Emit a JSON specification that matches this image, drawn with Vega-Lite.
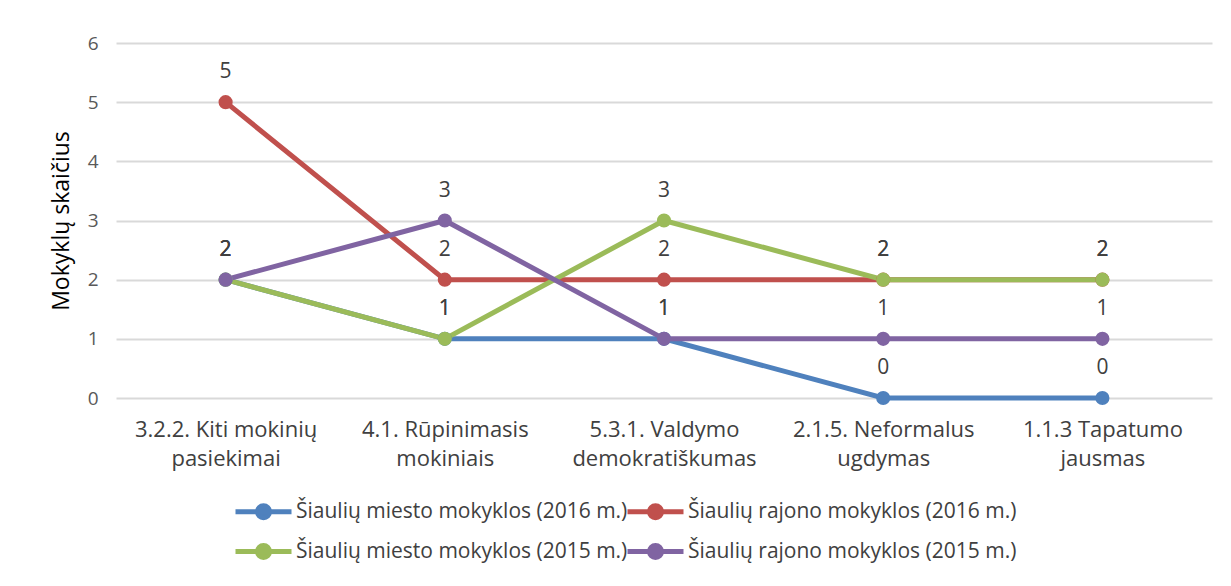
{
  "$schema": "https://vega.github.io/schema/vega-lite/v6.json",
  "width": 1096,
  "height": 355,
  "padding": {"left": 50, "top": 34, "right": 17, "bottom": 0},
  "background": "white",
  "config": {
    "font": "Open Sans",
    "view": {"stroke": null}
  },
  "data": {
    "values": [
      {"i": 1, "kategorija": "3.2.2. Kiti mokinių|pasiekimai", "serija": "Šiaulių miesto mokyklos (2016 m.)", "reiksme": 2},
      {"i": 2, "kategorija": "4.1. Rūpinimasis|mokiniais", "serija": "Šiaulių miesto mokyklos (2016 m.)", "reiksme": 1},
      {"i": 3, "kategorija": "5.3.1. Valdymo|demokratiškumas", "serija": "Šiaulių miesto mokyklos (2016 m.)", "reiksme": 1},
      {"i": 4, "kategorija": "2.1.5. Neformalus|ugdymas", "serija": "Šiaulių miesto mokyklos (2016 m.)", "reiksme": 0},
      {"i": 5, "kategorija": "1.1.3 Tapatumo|jausmas", "serija": "Šiaulių miesto mokyklos (2016 m.)", "reiksme": 0},
      {"i": 1, "kategorija": "3.2.2. Kiti mokinių|pasiekimai", "serija": "Šiaulių rajono mokyklos (2016 m.)", "reiksme": 5},
      {"i": 2, "kategorija": "4.1. Rūpinimasis|mokiniais", "serija": "Šiaulių rajono mokyklos (2016 m.)", "reiksme": 2},
      {"i": 3, "kategorija": "5.3.1. Valdymo|demokratiškumas", "serija": "Šiaulių rajono mokyklos (2016 m.)", "reiksme": 2},
      {"i": 4, "kategorija": "2.1.5. Neformalus|ugdymas", "serija": "Šiaulių rajono mokyklos (2016 m.)", "reiksme": 2},
      {"i": 5, "kategorija": "1.1.3 Tapatumo|jausmas", "serija": "Šiaulių rajono mokyklos (2016 m.)", "reiksme": 2},
      {"i": 1, "kategorija": "3.2.2. Kiti mokinių|pasiekimai", "serija": "Šiaulių miesto mokyklos (2015 m.)", "reiksme": 2},
      {"i": 2, "kategorija": "4.1. Rūpinimasis|mokiniais", "serija": "Šiaulių miesto mokyklos (2015 m.)", "reiksme": 1},
      {"i": 3, "kategorija": "5.3.1. Valdymo|demokratiškumas", "serija": "Šiaulių miesto mokyklos (2015 m.)", "reiksme": 3},
      {"i": 4, "kategorija": "2.1.5. Neformalus|ugdymas", "serija": "Šiaulių miesto mokyklos (2015 m.)", "reiksme": 2},
      {"i": 5, "kategorija": "1.1.3 Tapatumo|jausmas", "serija": "Šiaulių miesto mokyklos (2015 m.)", "reiksme": 2},
      {"i": 1, "kategorija": "3.2.2. Kiti mokinių|pasiekimai", "serija": "Šiaulių rajono mokyklos (2015 m.)", "reiksme": 2},
      {"i": 2, "kategorija": "4.1. Rūpinimasis|mokiniais", "serija": "Šiaulių rajono mokyklos (2015 m.)", "reiksme": 3},
      {"i": 3, "kategorija": "5.3.1. Valdymo|demokratiškumas", "serija": "Šiaulių rajono mokyklos (2015 m.)", "reiksme": 1},
      {"i": 4, "kategorija": "2.1.5. Neformalus|ugdymas", "serija": "Šiaulių rajono mokyklos (2015 m.)", "reiksme": 1},
      {"i": 5, "kategorija": "1.1.3 Tapatumo|jausmas", "serija": "Šiaulių rajono mokyklos (2015 m.)", "reiksme": 1}
    ]
  },
  "encoding": {
    "x": {
      "field": "kategorija",
      "type": "nominal",
      "sort": null,
      "scale": {"paddingInner": 0, "paddingOuter": 0.5},
      "axis": {
        "title": null,
        "labelAngle": 0,
        "labelExpr": "split(datum.value, '|')",
        "labelFontSize": 22,
        "labelColor": "#404040",
        "labelLineHeight": 29,
        "labelPadding": 21,
        "labelLimit": 0,
        "ticks": false,
        "domain": false,
        "grid": false
      }
    },
    "y": {
      "field": "reiksme",
      "type": "quantitative",
      "scale": {"domain": [0, 6], "nice": false},
      "axis": {
        "title": "Mokyklų skaičius",
        "titleFontSize": 23,
        "titleFontWeight": "normal",
        "titleColor": "#000000",
        "titlePadding": 14,
        "values": [0, 1, 2, 3, 4, 5, 6],
        "labelOverlap": false,
        "labelFontSize": 19,
        "labelColor": "#595959",
        "labelPadding": 18,
        "ticks": false,
        "domain": false,
        "gridColor": "#d9d9d9",
        "gridWidth": 2
      }
    }
  },
  "layer": [
    {
      "mark": {"type": "line", "strokeWidth": 5, "point": {"filled": true, "size": 200, "opacity": 1}},
      "encoding": {
        "color": {
          "field": "serija",
          "type": "nominal",
          "sort": null,
          "scale": {
            "domain": ["Šiaulių miesto mokyklos (2016 m.)", "Šiaulių rajono mokyklos (2016 m.)", "Šiaulių miesto mokyklos (2015 m.)", "Šiaulių rajono mokyklos (2015 m.)"],
            "range": ["#4f81bd", "#c0504d", "#9bbb59", "#8064a2"]
          },
          "legend": {
            "title": null,
            "orient": "none",
            "legendX": 135,
            "legendY": 456,
            "direction": "horizontal",
            "columns": 2,
            "rowPadding": 7,
            "columnPadding": -11,
            "labelFontSize": 21,
            "labelColor": "#404040",
            "labelOffset": 20,
            "labelLimit": 0,
            "symbolType": "M-2.8,0H2.8M0.6,0A0.6,0.6,0,1,1,-0.6,0A0.6,0.6,0,1,1,0.6,0Z",
            "symbolSize": 400,
            "symbolStrokeWidth": 5,
            "encode": {
              "symbols": {
                "update": {
                  "fill": {"scale": "color", "field": "value"},
                  "stroke": {"scale": "color", "field": "value"},
                  "opacity": {"value": 1}
                }
              }
            }
          }
        },
        "order": {"field": "i", "type": "quantitative"}
      }
    },
    {
      "mark": {"type": "text", "dy": -30, "fontSize": 21, "color": "#404040", "baseline": "middle"},
      "encoding": {
        "text": {"field": "reiksme", "type": "quantitative"}
      }
    }
  ]
}
